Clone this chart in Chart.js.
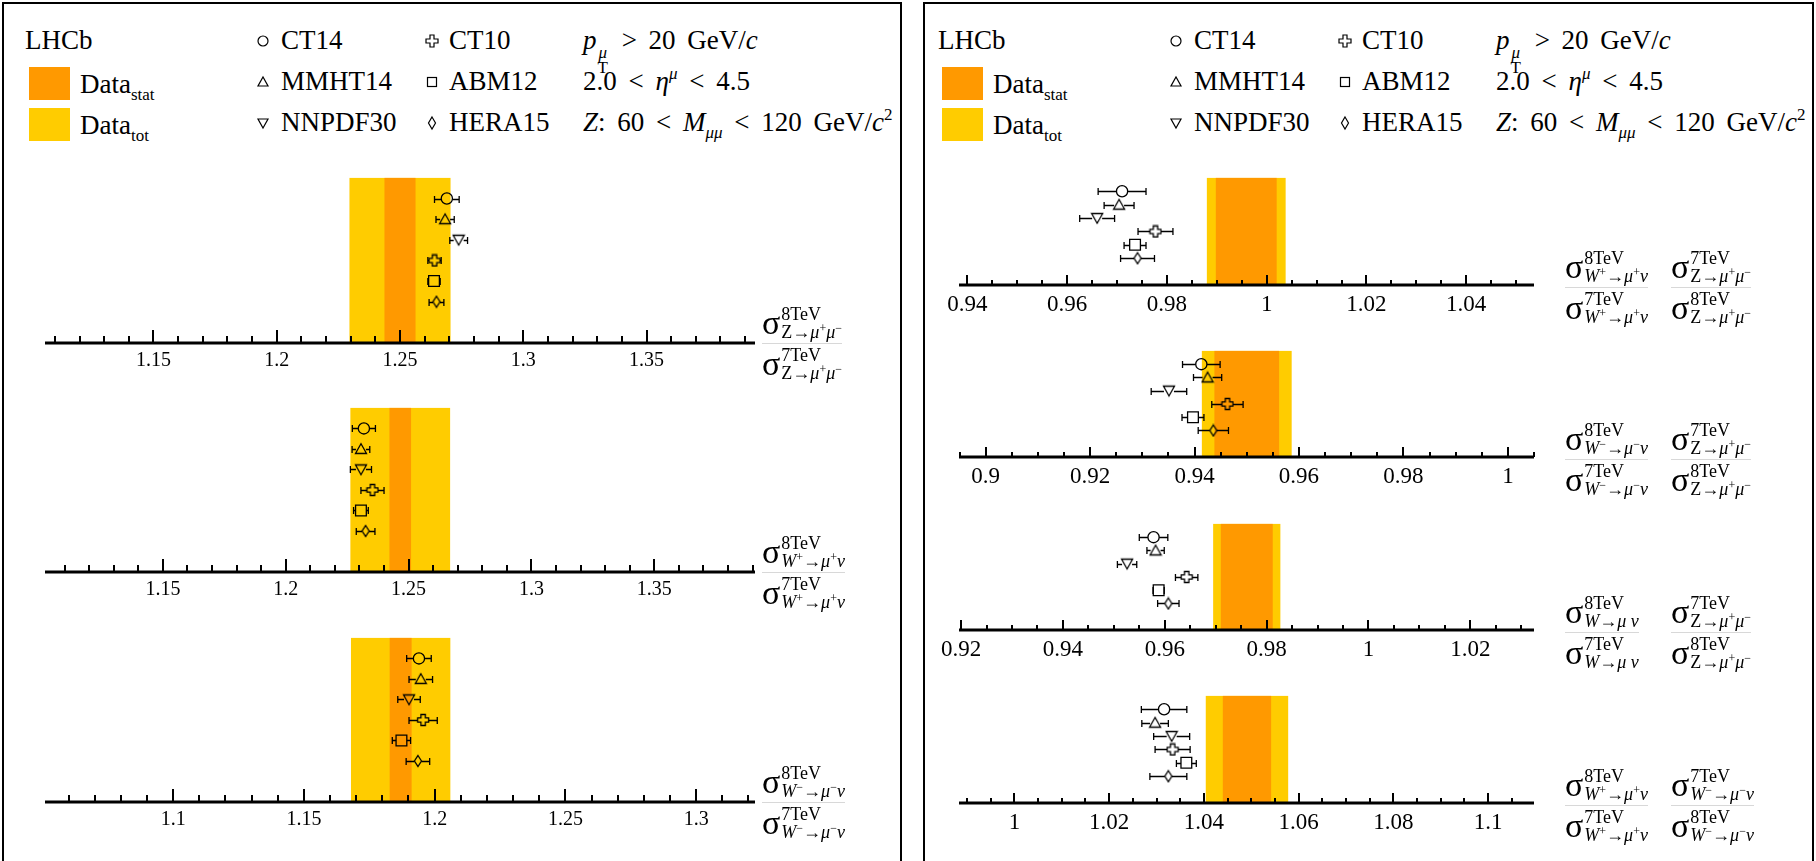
<!DOCTYPE html>
<html><head><meta charset="utf-8">
<script src="https://cdn.jsdelivr.net/npm/chart.js@4.4.0/dist/chart.umd.min.js"></script>
<style>
html,body{margin:0;padding:0;background:#fff;}
body{width:1816px;height:861px;position:relative;overflow:hidden;font-family:"Liberation Serif","DejaVu Serif",serif;color:#000;}
.frame{position:absolute;border:2px solid #000;box-sizing:border-box;}
canvas{position:absolute;}
.t{position:absolute;white-space:nowrap;font-size:27px;line-height:27px;}
.t sub{font-size:17px;vertical-align:-7px;line-height:0;}
.t sup{font-size:17px;vertical-align:11px;line-height:0;}
.cut{word-spacing:5px;}
.stk{display:inline-flex;flex-direction:column;font-size:17px;line-height:15px;vertical-align:-9px;margin:0 2px 0 1px;text-align:center;}
.box{position:absolute;}
.mk{position:absolute;}
.fr{position:absolute;white-space:nowrap;}
.fr .num,.fr .den{display:flex;align-items:center;height:40px;}
.fr .bar{height:1px;background:#d8d8d8;}
.sg{font-size:34px;line-height:34px;}
.ss{display:inline-flex;flex-direction:column;font-size:18px;line-height:18px;margin-left:1px;}
.ss sup{font-size:12px;vertical-align:6px;line-height:0;}
</style>
</head><body>
<div class="frame" style="left:2px;top:2px;width:900px;height:880px"></div>
<div class="frame" style="left:923px;top:2px;width:891px;height:880px"></div>
<script>
// ---------------- data ----------------
const models = ['CT14', 'MMHT14', 'NNPDF30', 'CT10', 'ABM12', 'HERA15'];

// left panel: 8 TeV / 7 TeV ratios
const zRatioPred  = [1.2690, 1.2683, 1.2738, 1.2640, 1.2638, 1.2648];
const zRatioErr   = [0.0050, 0.0037, 0.0036, 0.0027, 0.0025, 0.0030];
const zRatioData  = [1.2500, 0.0063, 0.0205];   // central, stat, total
const zRatioRange = [1.106, 1.394];
const zRatioTicks = ['1.15', '1.2', '1.25', '1.3', '1.35'];

const wpRatioPred  = [1.2318, 1.2306, 1.2306, 1.2353, 1.2306, 1.2325];
const wpRatioErr   = [0.0047, 0.0036, 0.0043, 0.0047, 0.0030, 0.0038];
const wpRatioData  = [1.2466, 0.0044, 0.0203];
const wpRatioRange = [1.102, 1.391];
const wpRatioTicks = ['1.15', '1.2', '1.25', '1.3', '1.35'];

const wmRatioPred  = [1.1940, 1.1947, 1.1902, 1.1956, 1.1873, 1.1936];
const wmRatioErr   = [0.0047, 0.0045, 0.0043, 0.0054, 0.0035, 0.0045];
const wmRatioData  = [1.1870, 0.0042, 0.0190];
const wmRatioRange = [1.051, 1.3225];
const wmRatioTicks = ['1.1', '1.15', '1.2', '1.25', '1.3'];

// right panel: double ratios
const wpzPred  = [0.9710, 0.9704, 0.9660, 0.9777, 0.9736, 0.9741];
const wpzErr   = [0.0048, 0.0030, 0.0035, 0.0035, 0.0022, 0.0034];
const wpzData  = [0.9959, 0.0061, 0.0079];
const wpzRange = [0.9383, 1.0536];
const wpzTicks = ['0.94', '0.96', '0.98', '1', '1.02', '1.04'];

const wmzPred  = [0.9413, 0.9425, 0.9351, 0.9463, 0.9397, 0.9436];
const wmzErr   = [0.0036, 0.0027, 0.0034, 0.0030, 0.0021, 0.0029];
const wmzData  = [0.9500, 0.0062, 0.0086];
const wmzRange = [0.8949, 1.0050];
const wmzTicks = ['0.9', '0.92', '0.94', '0.96', '0.98', '1'];

const wzPred  = [0.9578, 0.9582, 0.9526, 0.9643, 0.9588, 0.9607];
const wzErr   = [0.0028, 0.0017, 0.0019, 0.0022, 0.0011, 0.0021];
const wzData  = [0.9761, 0.0051, 0.0066];
const wzRange = [0.9196, 1.0325];
const wzTicks = ['0.92', '0.94', '0.96', '0.98', '1', '1.02'];

const wpwmPred  = [1.0316, 1.0297, 1.0332, 1.0334, 1.0363, 1.0325];
const wpwmErr   = [0.0048, 0.0028, 0.0038, 0.0037, 0.0021, 0.0039];
const wpwmData  = [1.0491, 0.0051, 0.0087];
const wpwmRange = [0.9883, 1.1097];
const wpwmTicks = ['1', '1.02', '1.04', '1.06', '1.08', '1.1'];

const leftSteps  = [0.05, 0.01];   // major, minor
const rightSteps = [0.02, 0.005];

// ---------------- markers ----------------
function mkCanvas(w, h, draw) {
  const c = document.createElement('canvas');
  c.width = w; c.height = h;
  const g = c.getContext('2d');
  g.strokeStyle = '#000'; g.lineWidth = 1.3;
  draw(g, w, h);
  return c;
}
const crossImg = mkCanvas(14, 14, (g) => {
  const a = 2.2, R = 5.5, cx = 7, cy = 7;
  g.beginPath();
  g.moveTo(cx - a, cy - R); g.lineTo(cx + a, cy - R); g.lineTo(cx + a, cy - a);
  g.lineTo(cx + R, cy - a); g.lineTo(cx + R, cy + a); g.lineTo(cx + a, cy + a);
  g.lineTo(cx + a, cy + R); g.lineTo(cx - a, cy + R); g.lineTo(cx - a, cy + a);
  g.lineTo(cx - R, cy + a); g.lineTo(cx - R, cy - a); g.lineTo(cx - a, cy - a);
  g.closePath(); g.stroke();
});
const diamondImg = mkCanvas(10, 14, (g) => {
  g.beginPath();
  g.moveTo(5, 1.5); g.lineTo(8.5, 7); g.lineTo(5, 12.5); g.lineTo(1.5, 7);
  g.closePath(); g.stroke();
});
const nablaImg = mkCanvas(14, 14, (g) => {
  g.beginPath();
  g.moveTo(1.5, 2.5); g.lineTo(12.5, 2.5); g.lineTo(7, 12.2); g.closePath(); g.stroke();
});
const triImg = mkCanvas(14, 14, (g) => {
  g.beginPath();
  g.moveTo(1.5, 11.5); g.lineTo(12.5, 11.5); g.lineTo(7, 1.8); g.closePath(); g.stroke();
});
const pointStyles = ['circle', triImg, nablaImg, crossImg, 'rect', diamondImg];
const pointRadii  = [5.6, 6, 6, 6, 7.6, 5];
const barGaps     = [5.6, 5, 5, 5.5, 5.4, 3.5];

// ---------------- charts ----------------
const PAD = 40, TOPPAD = 6, XH = 40;
function fmt(v) { return String(parseFloat(v.toFixed(4))); }

function makeChart(axisLeft, axisWidth, bandTop, axisY, range, steps, labels, preds, errs, data, tickLens, fontSize) {
  const cv = document.createElement('canvas');
  const w = axisWidth + 2 * PAD, h = axisY - bandTop + TOPPAD + XH;
  cv.width = w; cv.height = h;
  cv.style.left = (axisLeft - PAD) + 'px';
  cv.style.top = (bandTop - TOPPAD) + 'px';
  cv.style.width = w + 'px'; cv.style.height = h + 'px';
  document.body.appendChild(cv);
  const isMajor = (v) => Math.abs(v / steps[0] - Math.round(v / steps[0])) < 1e-6;

  const plugin = {
    id: 'lhcb',
    beforeDatasetsDraw(chart) {
      const { ctx, scales: { x, y } } = chart;
      const yt = y.getPixelForValue(8), yb = y.getPixelForValue(0);
      const [c, st, tot] = data;
      const xl = x.getPixelForValue(c - tot), xr = x.getPixelForValue(c + tot);
      const sl = x.getPixelForValue(c - st), sr = x.getPixelForValue(c + st);
      ctx.save();
      ctx.fillStyle = '#FFCC00'; ctx.fillRect(xl, yt, xr - xl, yb - yt);
      ctx.fillStyle = '#FF9900'; ctx.fillRect(sl, yt, sr - sl, yb - yt);
      ctx.strokeStyle = '#000'; ctx.lineWidth = 1.3;
      chart.data.datasets.forEach((ds, i) => {
        const p = ds.data[0], e = errs[i];
        const px = x.getPixelForValue(p.x), py = Math.round(y.getPixelForValue(p.y)) + 0.5;
        const a = x.getPixelForValue(p.x - e), b = x.getPixelForValue(p.x + e);
        const r = barGaps[i];
        ctx.beginPath();
        if (px - a > r) { ctx.moveTo(a, py); ctx.lineTo(px - r, py); ctx.moveTo(a, py - 3.5); ctx.lineTo(a, py + 3.5); }
        if (b - px > r) { ctx.moveTo(px + r, py); ctx.lineTo(b, py); ctx.moveTo(b, py - 3.5); ctx.lineTo(b, py + 3.5); }
        ctx.stroke();
      });
      ctx.restore();
    },
    afterDatasetsDraw(chart) {
      const { ctx, chartArea, scales: { x, y } } = chart;
      const yb = Math.round(y.getPixelForValue(0));
      ctx.save();
      ctx.strokeStyle = '#000';
      ctx.lineWidth = 2;
      ctx.beginPath();
      x.ticks.forEach(t => {
        const px = Math.round(x.getPixelForValue(t.value));
        ctx.moveTo(px, yb); ctx.lineTo(px, yb - (isMajor(t.value) ? tickLens[0] : tickLens[1]));
      });
      ctx.stroke();
      ctx.lineWidth = 3;
      ctx.beginPath(); ctx.moveTo(chartArea.left, yb); ctx.lineTo(chartArea.right, yb); ctx.stroke();
      ctx.restore();
    }
  };

  return new Chart(cv, {
    type: 'scatter',
    data: {
      datasets: models.map((m, i) => ({
        label: m,
        data: [{ x: preds[i], y: 7 - i }],
        pointStyle: pointStyles[i],
        pointRadius: pointRadii[i],
        pointBorderColor: '#000',
        pointBackgroundColor: 'rgba(0,0,0,0)',
        pointBorderWidth: 1.3
      }))
    },
    options: {
      responsive: false, animation: false, devicePixelRatio: 1,
      layout: { padding: { left: PAD, right: PAD, top: TOPPAD, bottom: 0 } },
      plugins: { legend: { display: false }, tooltip: { enabled: false } },
      scales: {
        x: {
          type: 'linear', min: range[0], max: range[1],
          grid: { display: false, drawTicks: false }, border: { display: false },
          ticks: {
            autoSkip: false, maxRotation: 0, minRotation: 0,
            padding: 6, color: '#000',
            font: { family: 'Liberation Serif', size: fontSize },
            callback: (v) => { const s = fmt(v); return labels.includes(s) ? s : ''; }
          },
          afterBuildTicks: (s) => {
            const st = steps[1], t = [];
            const n0 = Math.ceil(s.min / st - 1e-9), n1 = Math.floor(s.max / st + 1e-9);
            for (let n = n0; n <= n1; n++) t.push({ value: +(n * st).toFixed(6) });
            s.ticks = t;
          },
          afterFit: (s) => { s.height = XH; s.paddingLeft = 0; s.paddingRight = 0; }
        },
        y: { display: false, min: 0, max: 8 }
      }
    },
    plugins: [plugin]
  });
}

const LX = 45, LW = 710, RX = 959, RW = 575;
makeChart(LX, LW, 175, 343, zRatioRange, leftSteps, zRatioTicks, zRatioPred, zRatioErr, zRatioData, [13, 7], 20);
makeChart(LX, LW, 405, 572, wpRatioRange, leftSteps, wpRatioTicks, wpRatioPred, wpRatioErr, wpRatioData, [13, 7], 20);
makeChart(LX, LW, 635, 802, wmRatioRange, leftSteps, wmRatioTicks, wmRatioPred, wmRatioErr, wmRatioData, [13, 7], 20);
makeChart(RX, RW, 175, 285, wpzRange, rightSteps, wpzTicks, wpzPred, wpzErr, wpzData, [10, 5], 23);
makeChart(RX, RW, 348, 457, wmzRange, rightSteps, wmzTicks, wmzPred, wmzErr, wmzData, [10, 5], 23);
makeChart(RX, RW, 521, 630, wzRange, rightSteps, wzTicks, wzPred, wzErr, wzData, [10, 5], 23);
makeChart(RX, RW, 693, 803, wpwmRange, rightSteps, wpwmTicks, wpwmPred, wpwmErr, wpwmData, [10, 5], 23);

// ---------------- headers ----------------
function svgMarker(i) {
  const s = 'stroke="#000" stroke-width="1.2" fill="none"';
  const shapes = [
    `<circle cx="8" cy="8" r="5" ${s}/>`,
    `<polygon points="3,12 13,12 8,3" ${s}/>`,
    `<polygon points="3,4 13,4 8,13" ${s}/>`,
    `<polygon points="6,2 10,2 10,6 14,6 14,10 10,10 10,14 6,14 6,10 2,10 2,6 6,6" ${s}/>`,
    `<rect x="3.5" y="3.5" width="9" height="9" ${s}/>`,
    `<polygon points="8,2 11.5,8 8,14 4.5,8" ${s}/>`
  ];
  return `<svg width="16" height="16">${shapes[i]}</svg>`;
}
function addEl(cls, left, top, html, style) {
  const d = document.createElement('div');
  d.className = cls; d.style.left = left + 'px'; d.style.top = top + 'px';
  if (style) d.style.cssText += style;
  d.innerHTML = html;
  document.body.appendChild(d);
  return d;
}
const cutTexts = [
  '<i>p</i><span class="stk"><i>μ</i><span>T</span></span> &gt; 20 GeV/<i>c</i>',
  '2.0 &lt; <i>η</i><sup><i>μ</i></sup> &lt; 4.5',
  '<i>Z</i>: 60 &lt; <i>M</i><sub><i>μμ</i></sub> &lt; 120 GeV/<i>c</i><sup>2</sup>'
];
const rowTops = [27, 68, 109];
[0, 913].forEach(ox => {
  addEl('t', 25 + ox, rowTops[0], 'LHCb');
  addEl('box', 29 + ox, 67, '', 'width:41px;height:33px;background:#FF9900');
  addEl('box', 29 + ox, 108, '', 'width:41px;height:33px;background:#FFCC00');
  addEl('t', 80 + ox, 71, 'Data<sub>stat</sub>');
  addEl('t', 80 + ox, 112, 'Data<sub>tot</sub>');
  for (let i = 0; i < 6; i++) {
    const col = i < 3 ? 0 : 1, row = i % 3;
    const mx = col ? 432 : 263, tx = col ? 449 : 281;
    addEl('mk', mx - 8 + ox, rowTops[row] + 6, svgMarker(i));
    addEl('t', tx + ox, rowTops[row], models[i]);
  }
  cutTexts.forEach((c, k) => addEl('t cut', 583 + ox, rowTops[k], c));
});

// ---------------- fraction labels ----------------
const subZ  = 'Z→<i>μ</i><sup>+</sup><i>μ</i><sup>−</sup>';
const subWp = '<i>W</i><sup>+</sup>→<i>μ</i><sup>+</sup><i>ν</i>';
const subWm = '<i>W</i><sup>−</sup>→<i>μ</i><sup>−</sup><i>ν</i>';
const subW  = '<i>W</i>→<i>μ ν</i>';
function sig(e, sub) {
  return `<span class="sg">σ</span><span class="ss"><span>${e}</span><span>${sub}</span></span>`;
}
function frac(left, barY, numE, numSub, denE, denSub) {
  addEl('fr', left, barY - 40,
    `<div class="num">${sig(numE, numSub)}</div><div class="bar"></div><div class="den">${sig(denE, denSub)}</div>`);
}
frac(762, 343, '8TeV', subZ, '7TeV', subZ);
frac(762, 572, '8TeV', subWp, '7TeV', subWp);
frac(762, 802, '8TeV', subWm, '7TeV', subWm);
const rightFr = [[287, subWp, subZ], [459, subWm, subZ], [632, subW, subZ], [805, subWp, subWm]];
rightFr.forEach(([y, a, b]) => {
  frac(1565, y, '8TeV', a, '7TeV', a);
  frac(1671, y, '7TeV', b, '8TeV', b);
});
</script>
</body></html>
